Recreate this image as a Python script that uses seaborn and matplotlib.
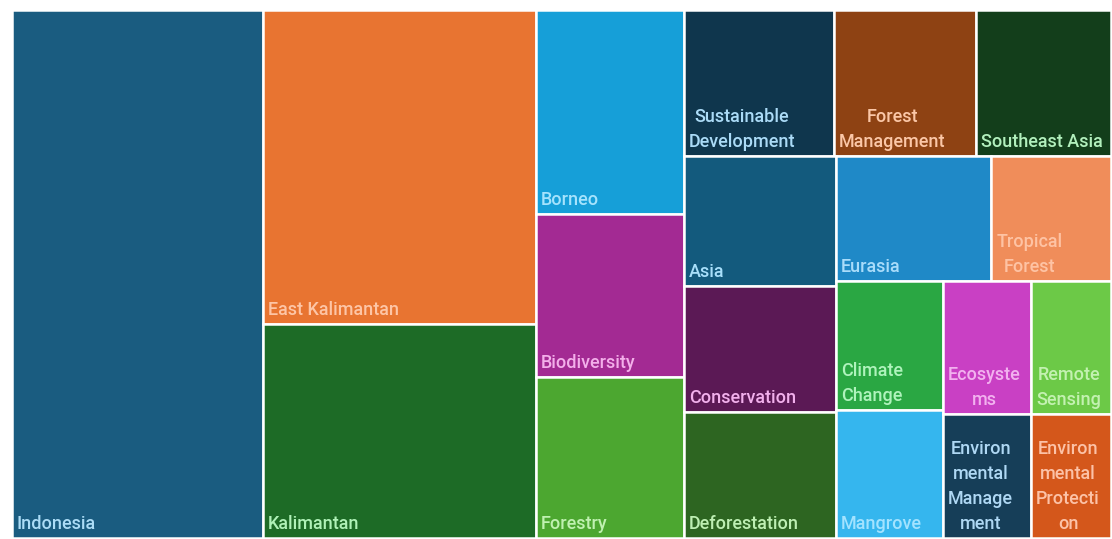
import colorsys
import seaborn as sns
import matplotlib.pyplot as plt
import matplotlib.colors as mcolors

# keyword treemap data
labels = ["Indonesia", "East Kalimantan", "Kalimantan", "Borneo", "Biodiversity", "Forestry",
          "Sustainable\nDevelopment", "Forest\nManagement", "Southeast Asia",
          "Asia", "Conservation", "Deforestation", "Eurasia", "Tropical\nForest",
          "Climate\nChange", "Mangrove", "Ecosyste\nms", "Remote\nSensing",
          "Environ\nmental\nManage\nment", "Environ\nmental\nProtecti\non"]
values = [132.5, 85.7, 58.4, 30.2, 24.1, 23.8,
          21.9, 20.7, 19.7,
          19.8, 19.2, 19.2, 19.4, 15.0,
          13.8, 13.7, 11.7, 10.6,
          10.9, 9.9]
colors = ["#1a5c80", "#e87431", "#1d6b26", "#169fd8", "#a32a93", "#4ca730",
          "#0f364d", "#8e4213", "#133e1b",
          "#135a7d", "#5b1955", "#2d6521", "#1f89c7", "#f08d5a",
          "#2aa743", "#35b6ee", "#c940c4", "#6cc947",
          "#163e58", "#d4571b"]
# how the cells are grouped into strips (direction, number of cells)
strips = [("col", 1), ("col", 2), ("col", 3), ("row", 3), ("col", 3),
          ("row", 2), ("col", 2), ("row", 2), ("row", 2)]


def layout(vals, strips, x, y, w, h):
    scale = w * h / sum(vals)
    rects = []
    i = 0
    for d, n in strips:
        part = vals[i:i + n]
        area = sum(part) * scale
        if d == "col":
            t = area / h
            yy = y
            for v in part:
                hh = v * scale / t
                rects.append((x, yy, t, hh))
                yy += hh
            x += t
            w -= t
        else:
            t = area / w
            xx = x
            for v in part:
                ww = v * scale / t
                rects.append((xx, y, ww, t))
                xx += ww
            y += t
            h -= t
        i += n
    return rects


def label_color(c):
    # pale tint of the cell colour, keeping the hue
    h, l, s = colorsys.rgb_to_hls(*mcolors.to_rgb(c))
    return colorsys.hls_to_rgb(h, 0.82, min(1.0, s + 0.15))


sns.set_theme(style="white")
plt.rcParams['font.family'] = ['Roboto', 'DejaVu Sans']

W, H = 1099, 528
rects = layout(values, strips, 0, 0, W, H)

fig = plt.figure(figsize=(11.12, 5.39), dpi=100)
ax = fig.add_axes([12 / 1112, 1 / 539, W / 1112, H / 539])

for (x, y, w, h), lab, col in zip(rects, labels, colors):
    ax.bar(x, h, width=w, bottom=y, align='edge', color=col, edgecolor='white', linewidth=1.8)
    ax.annotate(lab, xy=(x, y + h), xytext=(5, 5), textcoords='offset pixels',
                ha='left', va='bottom', multialignment='center',
                fontsize=13, fontweight='medium', color=label_color(col), linespacing=1.5)

ax.set_xlim(0, W)
ax.set_ylim(H, 0)
ax.axis('off')

plt.savefig("out.png", dpi=100)
